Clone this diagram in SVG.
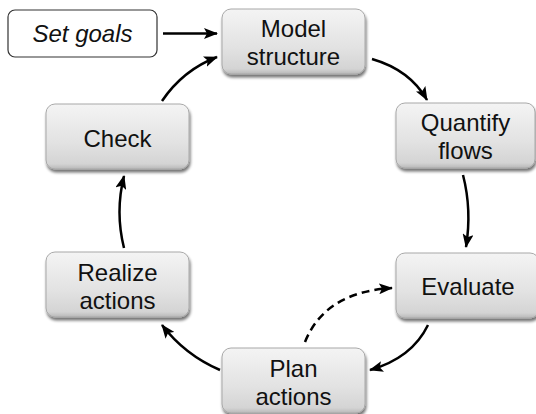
<svg xmlns="http://www.w3.org/2000/svg" width="536" height="414" viewBox="0 0 536 414">
<defs>
<linearGradient id="g" x1="0" y1="0" x2="0" y2="1">
<stop offset="0" stop-color="#f4f4f4"/>
<stop offset="0.6" stop-color="#e2e2e2"/>
<stop offset="0.92" stop-color="#d4d4d4"/>
<stop offset="1" stop-color="#b8b8b8"/>
</linearGradient>
<filter id="sh" x="-10%" y="-10%" width="120%" height="130%">
<feGaussianBlur in="SourceAlpha" stdDeviation="1.5"/>
<feOffset dx="1" dy="2.5" result="b"/>
<feComponentTransfer><feFuncA type="linear" slope="0.55"/></feComponentTransfer>
<feMerge><feMergeNode/><feMergeNode in="SourceGraphic"/></feMerge>
</filter>
<marker id="ah" viewBox="0 0 14 11" refX="13" refY="5.5" markerWidth="14" markerHeight="11" markerUnits="userSpaceOnUse" orient="auto">
<path d="M0,0 L14,5.5 L0,11 L3,5.5 Z" fill="#000"/>
</marker>
</defs>
<style>
.box{fill:url(#g);stroke:#a8a8a8;stroke-width:1;filter:url(#sh)}
.t{font-family:"Liberation Sans",Arial,sans-serif;font-size:24px;fill:#111;text-anchor:middle}
.c{fill:none;stroke:#000;stroke-width:2.5;marker-end:url(#ah)}
.d{stroke-dasharray:8 5}
</style>
<g id="set-goals">
<rect x="8" y="10" width="149" height="47" rx="7" fill="#fff" stroke="#333" stroke-width="1.2"/>
<text class="t" x="82.5" y="42" font-style="italic">Set goals</text>
</g>
<g id="model-structure">
<rect class="box" x="222" y="9" width="143" height="65" rx="9"/>
<text class="t" x="293.5" y="37">Model</text>
<text class="t" x="293.5" y="65">structure</text>
</g>
<g id="quantify-flows">
<rect class="box" x="396" y="103" width="139" height="65" rx="9"/>
<text class="t" x="465.5" y="131">Quantify</text>
<text class="t" x="465.5" y="159">flows</text>
</g>
<g id="evaluate">
<rect class="box" x="396" y="253" width="143" height="65" rx="9"/>
<text class="t" x="468" y="295">Evaluate</text>
</g>
<g id="plan-actions">
<rect class="box" x="222" y="348" width="143" height="65" rx="9"/>
<text class="t" x="293.5" y="377">Plan</text>
<text class="t" x="293.5" y="405">actions</text>
</g>
<g id="realize-actions">
<rect class="box" x="46" y="252" width="143" height="65" rx="9"/>
<text class="t" x="117.5" y="281">Realize</text>
<text class="t" x="117.5" y="309">actions</text>
</g>
<g id="check">
<rect class="box" x="46" y="104" width="143" height="65" rx="9"/>
<text class="t" x="117.5" y="147">Check</text>
</g>
<g id="connectors">
<path class="c" d="M163,33.5 L217,33.5"/>
<path class="c" d="M372,59 Q410,70 427,100"/>
<path class="c" d="M463,175 Q472,210 466,247"/>
<path class="c" d="M428,325 Q412,358 370,370"/>
<path class="c d" d="M305,342 Q325,292 392,288"/>
<path class="c" d="M220,370 Q185,355 162,325"/>
<path class="c" d="M124,248 Q115,212 124,176"/>
<path class="c" d="M162,101 Q183,70 217,57"/>
</g>
</svg>
